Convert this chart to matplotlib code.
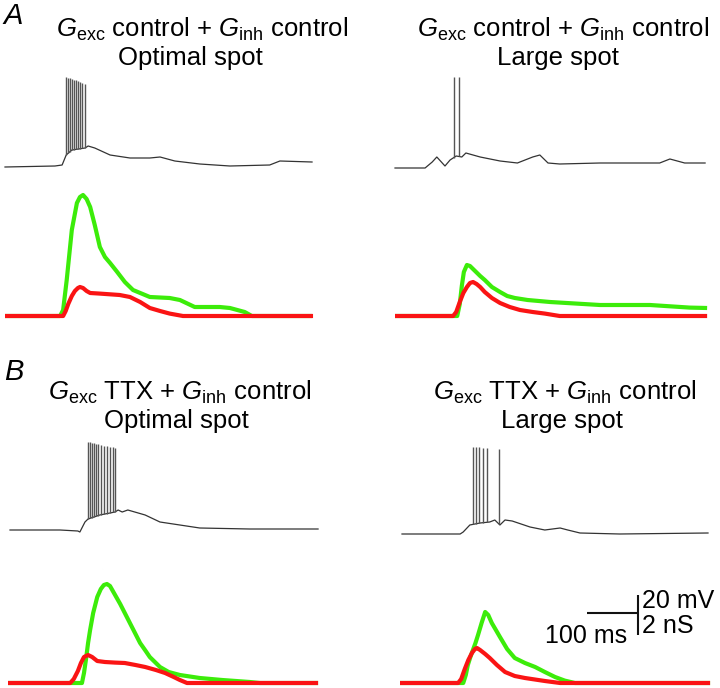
import numpy as np
import matplotlib
matplotlib.use("Agg")
import matplotlib.pyplot as plt

plt.rcParams['font.family'] = ['Liberation Sans', 'DejaVu Sans']
plt.rcParams['mathtext.fontset'] = 'custom'
plt.rcParams['mathtext.rm'] = 'Liberation Sans'
plt.rcParams['mathtext.it'] = 'Liberation Sans:italic'

W, H = 720, 688
PX_PER_MS = 0.51      # 100 ms = 51 px
PX_PER_MV = 2.0       # 20 mV = 40 px
PX_PER_NS = 20.0      # 2 nS = 40 px

GREEN = '#3cec0a'
RED = '#fa1414'
TRACE = '#333333'

# ---- A, optimal spot ----
a1_v_t = [0, 98, 112, 120, 131, 157, 163, 176, 206, 245, 284, 304, 333, 382, 441, 519, 539, 602]
a1_v = [-0.5, 0, 0.5, 5.5, 8, 9, 10, 9, 5.5, 4, 4, 4.5, 2.5, 1, 0, 0.5, 2.5, 2]
a1_spk_t = [120, 124, 127, 131, 135, 139, 143, 147, 151, 157]
a1_spk_v = [44.5, 44.2, 43.8, 43.5, 43.2, 42.8, 42.5, 42.0, 41.5, 41.0]
a1_ge_t = [0, 108, 114, 121, 131, 141, 147, 153, 160, 167, 176, 186, 196, 206, 220, 235, 251,
           284, 323, 343, 372, 421, 441, 470, 484, 602]
a1_ge = [0, 0, 0.3, 1.8, 4.3, 5.65, 5.95, 6.05, 5.85, 5.45, 4.55, 3.45, 2.95, 2.65, 2.2, 1.7, 1.3,
         0.95, 0.9, 0.8, 0.45, 0.45, 0.4, 0.2, 0, 0]
a1_gi_t = [0, 114, 119, 124, 131, 137, 143, 147, 153, 160, 167, 186, 225, 245, 265, 284, 304, 323, 349, 604]
a1_gi = [0, 0, 0.25, 0.6, 1.0, 1.25, 1.4, 1.45, 1.4, 1.25, 1.15, 1.12, 1.05, 0.95, 0.7, 0.4, 0.25, 0.12, 0, 0]

# ---- A, large spot ----
a2_v_t = [0, 59, 73, 82, 98, 108, 120, 131, 139, 167, 206, 240, 270, 284, 300, 323, 402, 519, 539, 568, 608]
a2_v = [0, 0, 3, 5.5, 1, 4, 6, 5.5, 7.5, 5.5, 3.5, 2.5, 5.5, 6.5, 2.5, 2, 2.5, 2.5, 4.5, 2.5, 2.5]
a2_spk_t = [115, 125]
a2_spk_v = [45.5, 45.5]
a2_ge_t = [0, 122, 127, 131, 135, 141, 147, 157, 167, 176, 190, 206, 220, 235, 260, 304, 402, 500, 578, 612]
a2_ge = [0, 0, 0.6, 1.5, 2.2, 2.55, 2.5, 2.25, 2.0, 1.8, 1.45, 1.2, 1.0, 0.9, 0.8, 0.7, 0.55, 0.55, 0.42, 0.4]
a2_gi_t = [0, 114, 120, 127, 134, 141, 147, 153, 160, 167, 176, 190, 206, 225, 245, 270, 294, 323, 612]
a2_gi = [0, 0, 0.2, 0.7, 1.15, 1.45, 1.65, 1.7, 1.6, 1.45, 1.2, 0.9, 0.65, 0.45, 0.3, 0.2, 0.12, 0, 0]

# ---- B, optimal spot ----
b1_v_t = [0, 98, 133, 137, 147, 153, 176, 206, 212, 220, 231, 265, 294, 372, 470, 604]
b1_v = [0, 0, -0.5, -1, 4, 5.5, 7.5, 9, 10, 9, 10, 7.5, 4, 1, 0.5, 0.5]
b1_spk_t = [153, 157, 161, 165, 169, 172, 178, 184, 190, 196, 202, 206]
b1_spk_v = [44, 43.8, 43.5, 43.3, 43, 42.8, 42.5, 42.2, 42, 41.7, 41.3, 41]
b1_ge_t = [0, 145, 149, 153, 157, 161, 167, 175, 182, 188, 194, 200, 210, 220, 229, 245, 259, 270,
           278, 290, 298, 315, 337, 376, 420, 474, 494, 608]
b1_ge = [0, 0, 0.5, 1.2, 2.0, 2.65, 3.5, 4.3, 4.7, 4.9, 4.95, 4.85, 4.4, 3.95, 3.5, 2.7, 2.0, 1.6,
         1.3, 1.0, 0.8, 0.55, 0.4, 0.25, 0.15, 0.05, 0, 0]
b1_gi_t = [0, 122, 129, 137, 143, 149, 157, 165, 175, 190, 210, 229, 250, 269, 290, 308, 325, 337, 351, 608]
b1_gi = [0, 0, 0.2, 0.6, 1.0, 1.3, 1.4, 1.3, 1.1, 1.05, 1.02, 1.0, 0.9, 0.8, 0.65, 0.5, 0.3, 0.15, 0, 0]

# ---- B, large spot ----
b2_v_t = [0, 114, 120, 133, 153, 172, 182, 192, 202, 216, 251, 280, 310, 325, 349, 427, 600]
b2_v = [0, 0, 1, 4.5, 5.5, 6, 7, 4.5, 7, 6.5, 3.5, 2, 3, 2, 0.5, 0, 0.5]
b2_spk_t = [139, 145, 151, 159, 167, 190]
b2_spk_v = [43.5, 43.5, 43.3, 43.0, 42.8, 42.5]
b2_ge_t = [0, 124, 129, 133, 138, 143, 148, 153, 160, 167, 173, 180, 188, 196, 210, 225, 245, 265,
           284, 304, 323, 343, 608]
b2_ge = [0, 0, 0.4, 0.9, 1.3, 1.65, 2.0, 2.4, 3.0, 3.55, 3.4, 3.0, 2.65, 2.3, 1.7, 1.25, 1.0, 0.8,
         0.55, 0.3, 0.12, 0, 0]
b2_gi_t = [0, 114, 120, 127, 134, 141, 147, 151, 157, 167, 176, 190, 206, 225, 245, 284, 314, 608]
b2_gi = [0, 0, 0.2, 0.7, 1.15, 1.5, 1.7, 1.75, 1.65, 1.45, 1.25, 0.9, 0.55, 0.35, 0.25, 0.1, 0, 0]

titles = [
    r"$G_{\mathrm{exc}}$ control + $G_{\mathrm{inh}}$ control",
    r"$G_{\mathrm{exc}}$ control + $G_{\mathrm{inh}}$ control",
    r"$G_{\mathrm{exc}}$ TTX + $G_{\mathrm{inh}}$ control",
    r"$G_{\mathrm{exc}}$ TTX + $G_{\mathrm{inh}}$ control",
]
subtitles = ["Optimal spot", "Large spot", "Optimal spot", "Large spot"]

fig = plt.figure(figsize=(W / 100, H / 100), dpi=100)


def trace_axes(x0, ybase, px_per_unit):
    # full-figure transparent axes, origin at (x0, ybase) in pixels from top-left
    ax = fig.add_axes([0, 0, 1, 1])
    ax.set_xlim(-x0 / PX_PER_MS, (W - x0) / PX_PER_MS)
    ax.set_ylim(-(H - ybase) / px_per_unit, ybase / px_per_unit)
    ax.axis('off')
    ax.patch.set_alpha(0)
    return ax


def draw_voltage(x0, ybase, t, v, spk_t, spk_v):
    ax = trace_axes(x0, ybase, PX_PER_MV)
    ax.plot(t, v, color=TRACE, lw=0.9, solid_joinstyle='round')
    base = np.interp(spk_t, t, v)
    ax.vlines(spk_t, base, spk_v, color='#555555', lw=1.0)
    return ax


def draw_cond(x0, ybase, ge_t, ge, gi_t, gi):
    ax = trace_axes(x0, ybase, PX_PER_NS)
    ax.plot(ge_t, ge, color=GREEN, lw=3.0, solid_capstyle='butt', solid_joinstyle='round')
    ax.plot(gi_t, gi, color=RED, lw=3.0, solid_capstyle='butt', solid_joinstyle='round')
    return ax


draw_voltage(5, 166, a1_v_t, a1_v, a1_spk_t, a1_spk_v)
draw_cond(5, 316, a1_ge_t, a1_ge, a1_gi_t, a1_gi)
draw_voltage(395, 168, a2_v_t, a2_v, a2_spk_t, a2_spk_v)
draw_cond(395, 316, a2_ge_t, a2_ge, a2_gi_t, a2_gi)
draw_voltage(10, 530, b1_v_t, b1_v, b1_spk_t, b1_spk_v)
draw_cond(8, 683, b1_ge_t, b1_ge, b1_gi_t, b1_gi)
draw_voltage(402, 534, b2_v_t, b2_v, b2_spk_t, b2_spk_v)
axs = draw_cond(400, 683, b2_ge_t, b2_ge, b2_gi_t, b2_gi)

# scale bar: 100 ms, 20 mV / 2 nS
axs.plot([367, 467], [3.5, 3.5], color='#111111', lw=1.5, solid_capstyle='butt')
axs.plot([467, 467], [2.4, 4.4], color='#111111', lw=1.5, solid_capstyle='butt')


def ftext(x, y, s, **kw):
    fig.text(x / W, 1 - y / H, s, **kw)


ftext(627, 636, "100 ms", ha='right', va='center', fontsize=18)
ftext(642, 601, "20 mV", ha='left', va='center', fontsize=18)
ftext(642, 626, "2 nS", ha='left', va='center', fontsize=18)

title_pos = [(202, 29, 190, 58), (563, 29, 558, 58), (180, 392, 176, 421), (565, 392, 562, 421)]
for (x1, y1, x2, y2), t1, t2 in zip(title_pos, titles, subtitles):
    ftext(x1, y1, t1, ha='center', va='center', fontsize=18.5)
    ftext(x2, y2, t2, ha='center', va='center', fontsize=18.5)

ftext(3, 16, "A", ha='left', va='center', fontsize=21, style='italic')
ftext(4, 372, "B", ha='left', va='center', fontsize=21, style='italic')

fig.savefig("out.png", dpi=100, facecolor='white')
